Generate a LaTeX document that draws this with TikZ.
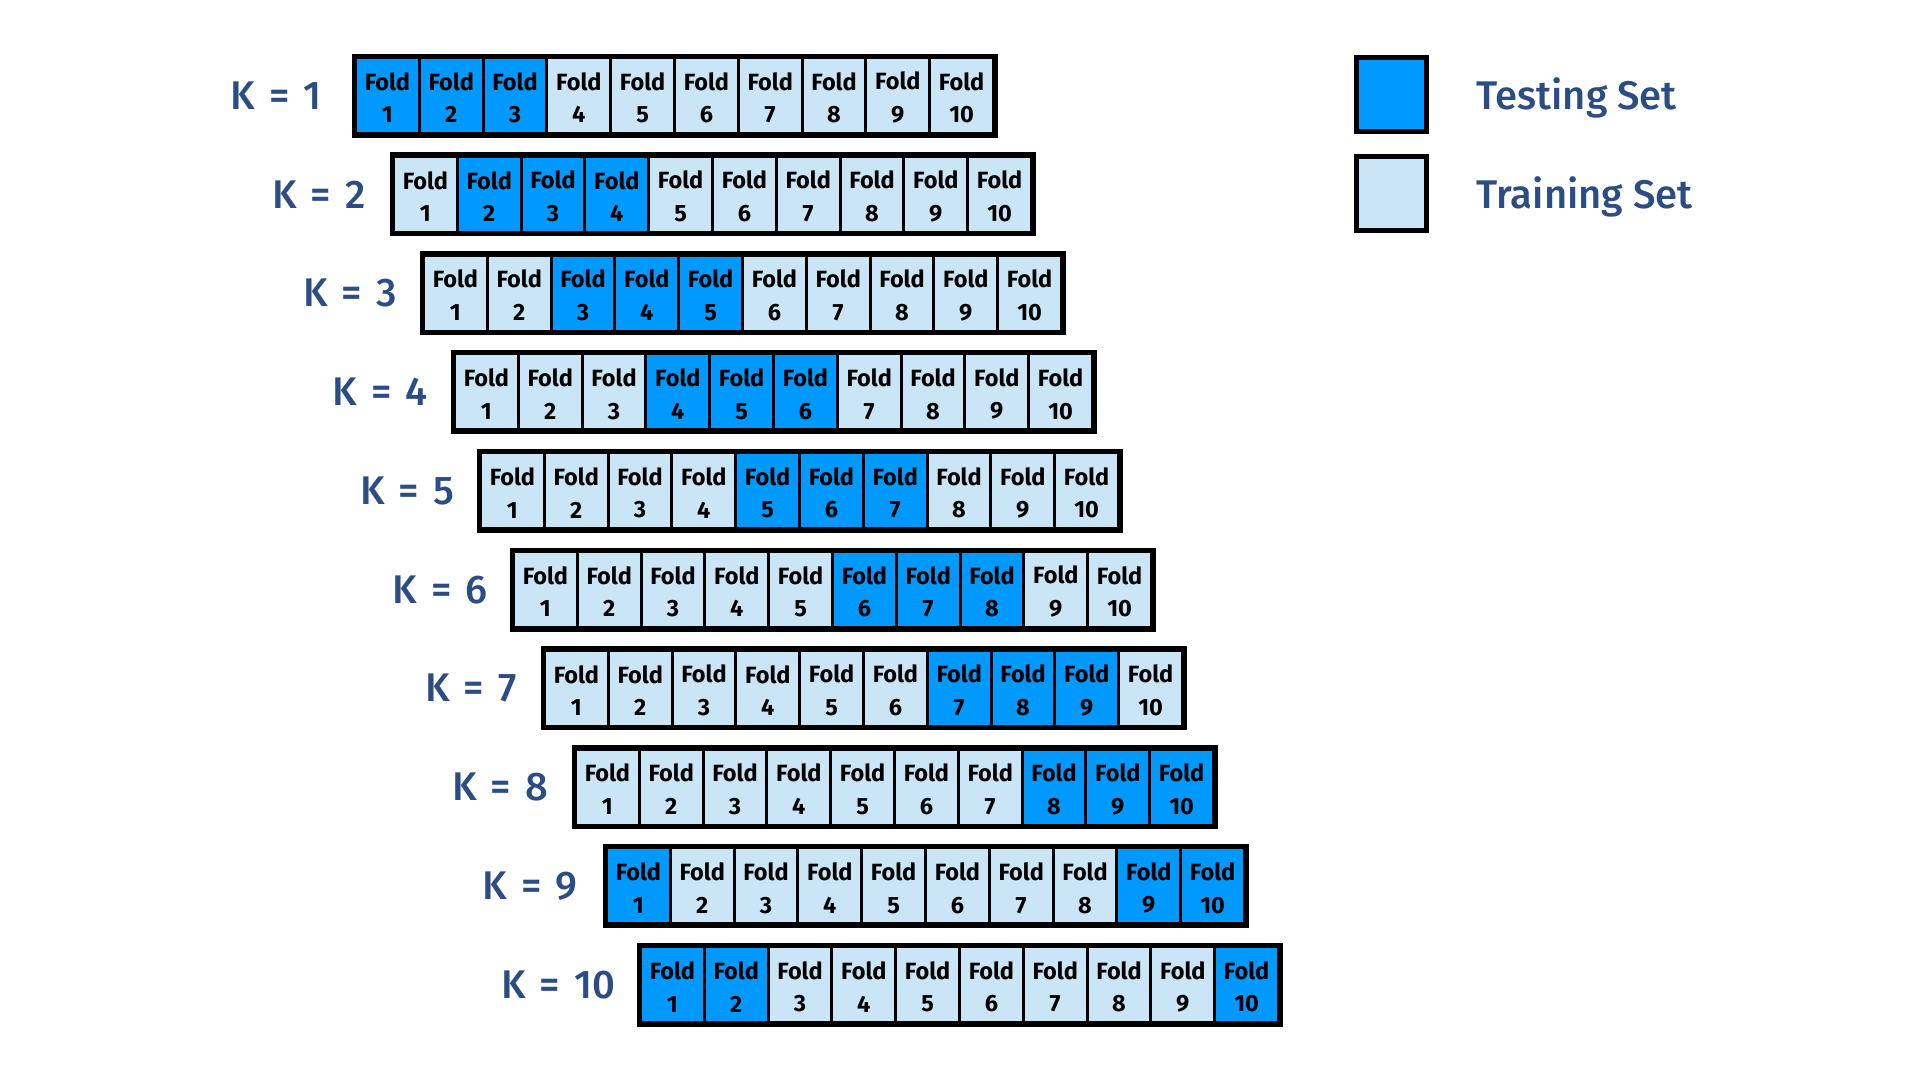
\documentclass[tikz,border=0pt]{standalone}
\usepackage{fontspec}
\setmainfont{Fira Sans}
\newfontfamily\labfont{Fira Sans}[UprightFont={* Medium}]
\usetikzlibrary{calc}
\usepackage{xcolor}
\definecolor{testblue}{HTML}{0099FF}
\definecolor{trainblue}{HTML}{CAE6F6}
\definecolor{labblue}{HTML}{2C4C84}

\tikzset{
    fold/.style={draw, line width=3pt, minimum width=63.8pt, minimum height=76pt,
        inner sep=0pt, align=center, font=\bfseries\fontsize{23.5}{32.6}\selectfont},
    rowframe/.style={line width=5pt},
    legbox/.style={draw, line width=5pt, minimum width=70pt, minimum height=74pt, inner sep=0pt},
    klabel/.style={text=labblue, font=\labfont\fontsize{40}{48}\selectfont},
    legtext/.style={text=labblue, font=\labfont\fontsize{40}{48}\selectfont, anchor=base west}
}
\newcommand{\ksp}{\hspace{14pt}}

\begin{document}
\begin{tikzpicture}[x=1pt, y=1pt]
    \useasboundingbox (0,0) rectangle (1920,-1080);
    % row / left edge of the row / centre of its label
    \foreach \r/\xl/\xk in {1/353/276, 2/391/319, 3/421/350, 4/452/380, 5/478/407,
                            6/511/440, 7/542/471, 8/573/500, 9/604/530, 10/638/558}{
        \begin{scope}[yshift={-95.5-(\r-1)*98.8}]
            \foreach \c in {1,...,10}{
                \pgfmathtruncatemacro{\d}{mod(\c-\r+10,10)}
                \ifnum\d<3 \def\cellcol{testblue}\else\def\cellcol{trainblue}\fi
                \node[fold, fill=\cellcol] (f\r-\c) at ({\xl+2.5+(\c-0.5)*63.8},0) {\rule{0pt}{22pt}Fold\\\c};
            }
            \draw[rowframe] (f\r-1.north west) rectangle (f\r-10.south east);
            \node[klabel] (k\r) at (\xk,0) {K\ksp=\ksp\r};
        \end{scope}
    }
    % legend
    \node[legbox, fill=testblue] (legtest) at (1391.5,-94.5) {};
    \node[legbox, fill=trainblue] (legtrain) at (1391.5,-193.5) {};
    \node[legtext] (txttest) at ([xshift=44pt, yshift=-15pt]legtest.east) {Testing Set};
    \node[legtext] (txttrain) at ([xshift=44pt, yshift=-15pt]legtrain.east) {Training Set};
\end{tikzpicture}
\end{document}
